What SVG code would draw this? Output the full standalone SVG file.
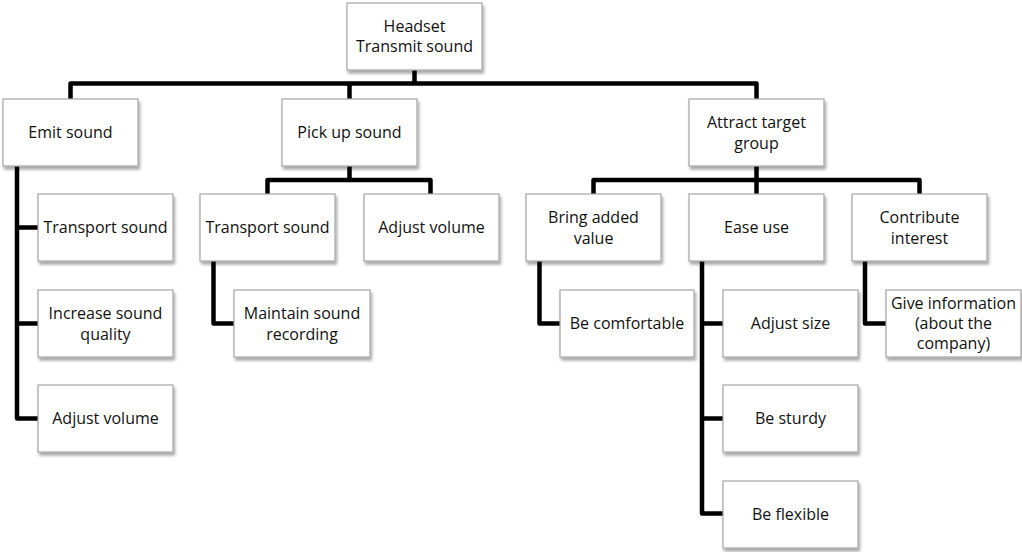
<svg xmlns="http://www.w3.org/2000/svg" width="1022" height="552" viewBox="0 0 1022 552">
<style>
.box{fill:#fff;stroke:#a6a6a6;stroke-width:1.2;filter:url(#sh)}
.t{font-family:"Open Sans","Liberation Sans",sans-serif;font-size:16px;fill:#111;text-anchor:middle}
.c{fill:none;stroke:#000;stroke-width:4.5;stroke-linejoin:round}
</style>
<defs>
<filter id="sh" x="-10%" y="-10%" width="130%" height="140%">
<feDropShadow dx="1.5" dy="3" stdDeviation="1.8" flood-color="#000" flood-opacity="0.35"/>
</filter>
</defs>
<rect width="1022" height="552" fill="#fff"/>
<g id="connectors">
<path class="c" d="M414.5 70V83.5M70.5 99V83.5H756.5V99M349.5 83.5V99"/>
<path class="c" d="M17 166V418.5H38M17 227.5H38M17 323.5H38"/>
<path class="c" d="M349.5 166V180M267.5 194V180H430.5V194"/>
<path class="c" d="M213.5 261V323.5H234"/>
<path class="c" d="M756.5 166V194M593.5 194V180H919.5V194"/>
<path class="c" d="M539.5 261V323.5H560"/>
<path class="c" d="M702 261V513.5H723M702 323.5H723M702 418.5H723"/>
<path class="c" d="M865 261V323.5H886"/>
</g>
<g id="n-root"><rect class="box" x="347" y="3" width="135" height="67"/><text class="t" x="414.5" y="31.5">Headset</text><text class="t" x="414.5" y="52">Transmit sound</text></g>
<g id="n-emit"><rect class="box" x="3" y="99" width="135" height="67"/><text class="t" x="70.5" y="138">Emit sound</text></g>
<g id="n-pick"><rect class="box" x="282" y="99" width="135" height="67"/><text class="t" x="349.5" y="138">Pick up sound</text></g>
<g id="n-attract"><rect class="box" x="689" y="99" width="135" height="67"/><text class="t" x="756.5" y="127.5">Attract target</text><text class="t" x="756.5" y="148.5">group</text></g>
<g id="n-transport1"><rect class="box" x="38" y="194" width="135" height="67"/><text class="t" x="105.5" y="232.5">Transport sound</text></g>
<g id="n-increase"><rect class="box" x="38" y="290" width="135" height="67"/><text class="t" x="105.5" y="318.5">Increase sound</text><text class="t" x="105.5" y="339.5">quality</text></g>
<g id="n-adjvol1"><rect class="box" x="38" y="385" width="135" height="67"/><text class="t" x="105.5" y="424">Adjust volume</text></g>
<g id="n-transport2"><rect class="box" x="200" y="194" width="135" height="67"/><text class="t" x="267.5" y="232.5">Transport sound</text></g>
<g id="n-adjvol2"><rect class="box" x="364" y="194" width="135" height="67"/><text class="t" x="431.5" y="232.5">Adjust volume</text></g>
<g id="n-maintain"><rect class="box" x="234" y="290" width="136" height="67"/><text class="t" x="302" y="318.5">Maintain sound</text><text class="t" x="302" y="339.5">recording</text></g>
<g id="n-bring"><rect class="box" x="526" y="194" width="135" height="67"/><text class="t" x="593.5" y="222.5">Bring added</text><text class="t" x="593.5" y="243.5">value</text></g>
<g id="n-ease"><rect class="box" x="689" y="194" width="135" height="67"/><text class="t" x="756.5" y="232.5">Ease use</text></g>
<g id="n-contribute"><rect class="box" x="852" y="194" width="135" height="67"/><text class="t" x="919.5" y="222.5">Contribute</text><text class="t" x="919.5" y="243.5">interest</text></g>
<g id="n-comfort"><rect class="box" x="560" y="290" width="134" height="67"/><text class="t" x="627" y="328.5">Be comfortable</text></g>
<g id="n-adjsize"><rect class="box" x="723" y="290" width="135" height="67"/><text class="t" x="790.5" y="328.5">Adjust size</text></g>
<g id="n-sturdy"><rect class="box" x="723" y="385" width="135" height="67"/><text class="t" x="790.5" y="424">Be sturdy</text></g>
<g id="n-flexible"><rect class="box" x="723" y="481" width="135" height="67"/><text class="t" x="790.5" y="519.5">Be flexible</text></g>
<g id="n-info"><rect class="box" x="886" y="290" width="135" height="67"/><text class="t" x="953.5" y="308.5">Give information</text><text class="t" x="953.5" y="328.5">(about the</text><text class="t" x="953.5" y="348.5">company)</text></g>
</svg>
